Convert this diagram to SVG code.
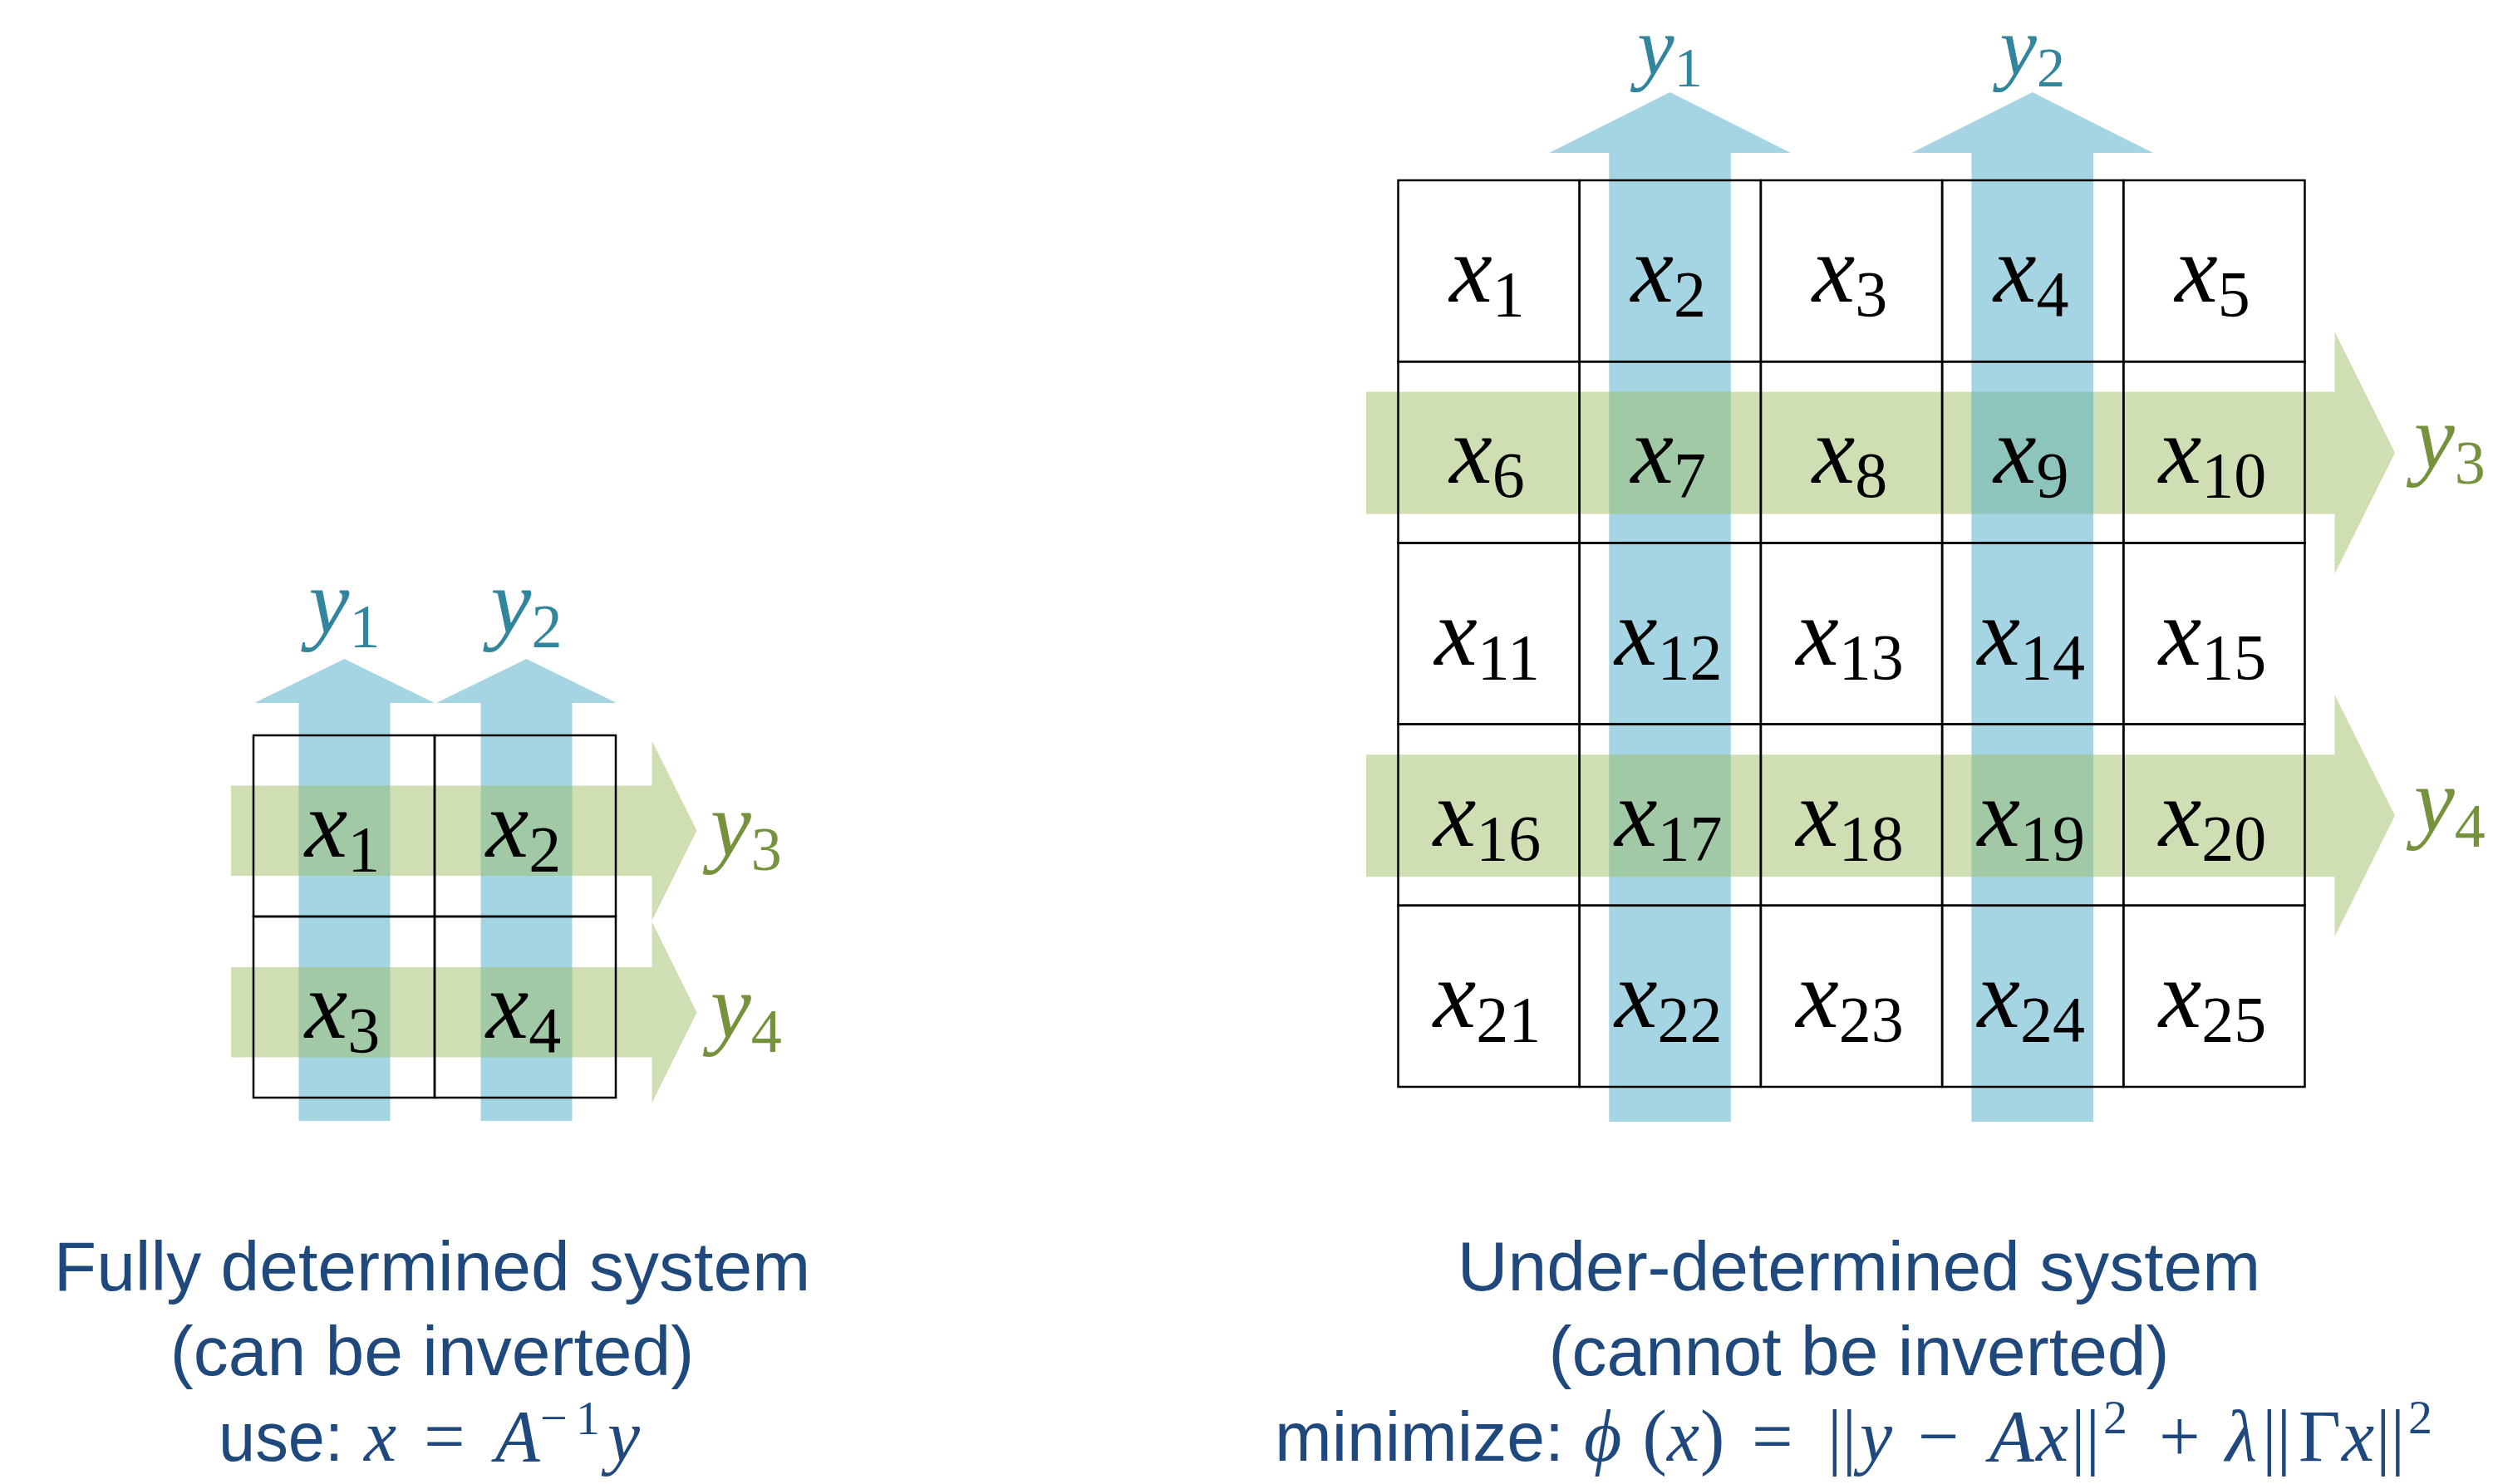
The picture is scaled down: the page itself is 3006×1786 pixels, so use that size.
<svg xmlns="http://www.w3.org/2000/svg" width="3006" height="1786" viewBox="0 0 3006 1786">
<style>
.blue{fill:#4BACC6;fill-opacity:0.5}
.green{fill:#A0BD68;fill-opacity:0.5}
.cell{fill:none;stroke:#000;stroke-width:2.5}
.xv{font-family:"Liberation Serif","Times New Roman",serif;font-style:italic;font-size:116px;fill:#000}
.xs{font-style:normal;font-size:78px}
.yv{font-family:"Liberation Serif","Times New Roman",serif;font-style:italic;font-size:110px}
.ys{font-style:normal;font-size:74px}
.yt{font-size:100px}
.yts{font-size:68px}
.teal{fill:#31859C}
.olive{fill:#76923C}
.cap{font-family:"Liberation Sans",Arial,sans-serif;font-size:84px;fill:#1F497D}
.m{font-family:"Liberation Serif","DejaVu Serif",serif;font-size:88px;fill:#1F497D}
.mi{font-style:italic}
.sup{font-size:58px}
</style>
<rect width="3006" height="1786" fill="#fff"/>

<g id="connectors">
  <g id="left-arrows">
    <polygon id="l-y1-arrow" class="blue" points="359.5,1349 359.5,846 306,846 414.5,793 523,846 469.5,846 469.5,1349"/>
    <polygon id="l-y2-arrow" class="blue" points="578.5,1349 578.5,846 525,846 633.5,793 742,846 688.5,846 688.5,1349"/>
    <polygon id="l-y3-arrow" class="green" points="278,945.5 784.5,945.5 784.5,891.5 838.5,999.8 784.5,1108 784.5,1054 278,1054"/>
    <polygon id="l-y4-arrow" class="green" points="278,1164 784.5,1164 784.5,1109.5 838.5,1218.5 784.5,1327.5 784.5,1272.5 278,1272.5"/>
  </g>
  <g id="right-arrows">
    <polygon id="r-y1-arrow" class="blue" points="1936.3,1350 1936.3,184 1864.2,184 2009.5,111 2154.8,184 2082.8,184 2082.8,1350"/>
    <polygon id="r-y3-arrow" class="green" points="1644,471.6 2809.5,471.6 2809.5,399.5 2882,545 2809.5,690.5 2809.5,618.5 1644,618.5"/>
    <polygon id="r-y2-arrow" class="blue" points="2372.4,1350 2372.4,184 2300.4,184 2445.7,111 2591,184 2519,184 2519,1350"/>
    <polygon id="r-y4-arrow" class="green" points="1644,908.2 2809.5,908.2 2809.5,836.2 2882,981.7 2809.5,1127.2 2809.5,1055.2 1644,1055.2"/>
  </g>
</g>

<g id="left-grid">
  <g id="l-x1"><rect class="cell" x="305" y="885" width="218" height="218"/><text class="xv" x="412" y="1031" text-anchor="middle">x<tspan class="xs" dy="17">1</tspan></text></g>
  <g id="l-x2"><rect class="cell" x="523" y="885" width="218" height="218"/><text class="xv" x="630" y="1031" text-anchor="middle">x<tspan class="xs" dy="17">2</tspan></text></g>
  <g id="l-x3"><rect class="cell" x="305" y="1103" width="218" height="218"/><text class="xv" x="412" y="1249" text-anchor="middle">x<tspan class="xs" dy="17">3</tspan></text></g>
  <g id="l-x4"><rect class="cell" x="523" y="1103" width="218" height="218"/><text class="xv" x="630" y="1249" text-anchor="middle">x<tspan class="xs" dy="17">4</tspan></text></g>
</g>

<g id="left-labels">
  <g id="l-y1"><text class="yv teal" x="414.5" y="762" text-anchor="middle">y<tspan class="ys" dy="17">1</tspan></text></g>
  <g id="l-y2"><text class="yv teal" x="633.5" y="762" text-anchor="middle">y<tspan class="ys" dy="17">2</tspan></text></g>
  <g id="l-y3"><text class="yv olive" x="855" y="1030">y<tspan class="ys" dy="17">3</tspan></text></g>
  <g id="l-y4"><text class="yv olive" x="855" y="1249">y<tspan class="ys" dy="17">4</tspan></text></g>
</g>

<g id="right-grid">
  <g id="r-x1"><rect class="cell" x="1682.5" y="217" width="218.2" height="218.2"/><text class="xv" x="1789.6" y="363.1" text-anchor="middle">x<tspan class="xs" dy="17">1</tspan></text></g>
  <g id="r-x2"><rect class="cell" x="1900.7" y="217" width="218.2" height="218.2"/><text class="xv" x="2007.8" y="363.1" text-anchor="middle">x<tspan class="xs" dy="17">2</tspan></text></g>
  <g id="r-x3"><rect class="cell" x="2118.9" y="217" width="218.2" height="218.2"/><text class="xv" x="2226" y="363.1" text-anchor="middle">x<tspan class="xs" dy="17">3</tspan></text></g>
  <g id="r-x4"><rect class="cell" x="2337.1" y="217" width="218.2" height="218.2"/><text class="xv" x="2444.2" y="363.1" text-anchor="middle">x<tspan class="xs" dy="17">4</tspan></text></g>
  <g id="r-x5"><rect class="cell" x="2555.3" y="217" width="218.2" height="218.2"/><text class="xv" x="2662.4" y="363.1" text-anchor="middle">x<tspan class="xs" dy="17">5</tspan></text></g>

  <g id="r-x6"><rect class="cell" x="1682.5" y="435.2" width="218.2" height="218.2"/><text class="xv" x="1789.6" y="581.3" text-anchor="middle">x<tspan class="xs" dy="17">6</tspan></text></g>
  <g id="r-x7"><rect class="cell" x="1900.7" y="435.2" width="218.2" height="218.2"/><text class="xv" x="2007.8" y="581.3" text-anchor="middle">x<tspan class="xs" dy="17">7</tspan></text></g>
  <g id="r-x8"><rect class="cell" x="2118.9" y="435.2" width="218.2" height="218.2"/><text class="xv" x="2226" y="581.3" text-anchor="middle">x<tspan class="xs" dy="17">8</tspan></text></g>
  <g id="r-x9"><rect class="cell" x="2337.1" y="435.2" width="218.2" height="218.2"/><text class="xv" x="2444.2" y="581.3" text-anchor="middle">x<tspan class="xs" dy="17">9</tspan></text></g>
  <g id="r-x10"><rect class="cell" x="2555.3" y="435.2" width="218.2" height="218.2"/><text class="xv" x="2662.4" y="581.3" text-anchor="middle">x<tspan class="xs" dy="17">10</tspan></text></g>

  <g id="r-x11"><rect class="cell" x="1682.5" y="653.4" width="218.2" height="218.2"/><text class="xv" x="1789.6" y="799.5" text-anchor="middle">x<tspan class="xs" dy="17">11</tspan></text></g>
  <g id="r-x12"><rect class="cell" x="1900.7" y="653.4" width="218.2" height="218.2"/><text class="xv" x="2007.8" y="799.5" text-anchor="middle">x<tspan class="xs" dy="17">12</tspan></text></g>
  <g id="r-x13"><rect class="cell" x="2118.9" y="653.4" width="218.2" height="218.2"/><text class="xv" x="2226" y="799.5" text-anchor="middle">x<tspan class="xs" dy="17">13</tspan></text></g>
  <g id="r-x14"><rect class="cell" x="2337.1" y="653.4" width="218.2" height="218.2"/><text class="xv" x="2444.2" y="799.5" text-anchor="middle">x<tspan class="xs" dy="17">14</tspan></text></g>
  <g id="r-x15"><rect class="cell" x="2555.3" y="653.4" width="218.2" height="218.2"/><text class="xv" x="2662.4" y="799.5" text-anchor="middle">x<tspan class="xs" dy="17">15</tspan></text></g>

  <g id="r-x16"><rect class="cell" x="1682.5" y="871.6" width="218.2" height="218.2"/><text class="xv" x="1789.6" y="1017.7" text-anchor="middle">x<tspan class="xs" dy="17">16</tspan></text></g>
  <g id="r-x17"><rect class="cell" x="1900.7" y="871.6" width="218.2" height="218.2"/><text class="xv" x="2007.8" y="1017.7" text-anchor="middle">x<tspan class="xs" dy="17">17</tspan></text></g>
  <g id="r-x18"><rect class="cell" x="2118.9" y="871.6" width="218.2" height="218.2"/><text class="xv" x="2226" y="1017.7" text-anchor="middle">x<tspan class="xs" dy="17">18</tspan></text></g>
  <g id="r-x19"><rect class="cell" x="2337.1" y="871.6" width="218.2" height="218.2"/><text class="xv" x="2444.2" y="1017.7" text-anchor="middle">x<tspan class="xs" dy="17">19</tspan></text></g>
  <g id="r-x20"><rect class="cell" x="2555.3" y="871.6" width="218.2" height="218.2"/><text class="xv" x="2662.4" y="1017.7" text-anchor="middle">x<tspan class="xs" dy="17">20</tspan></text></g>

  <g id="r-x21"><rect class="cell" x="1682.5" y="1089.8" width="218.2" height="218.2"/><text class="xv" x="1789.6" y="1235.9" text-anchor="middle">x<tspan class="xs" dy="17">21</tspan></text></g>
  <g id="r-x22"><rect class="cell" x="1900.7" y="1089.8" width="218.2" height="218.2"/><text class="xv" x="2007.8" y="1235.9" text-anchor="middle">x<tspan class="xs" dy="17">22</tspan></text></g>
  <g id="r-x23"><rect class="cell" x="2118.9" y="1089.8" width="218.2" height="218.2"/><text class="xv" x="2226" y="1235.9" text-anchor="middle">x<tspan class="xs" dy="17">23</tspan></text></g>
  <g id="r-x24"><rect class="cell" x="2337.1" y="1089.8" width="218.2" height="218.2"/><text class="xv" x="2444.2" y="1235.9" text-anchor="middle">x<tspan class="xs" dy="17">24</tspan></text></g>
  <g id="r-x25"><rect class="cell" x="2555.3" y="1089.8" width="218.2" height="218.2"/><text class="xv" x="2662.4" y="1235.9" text-anchor="middle">x<tspan class="xs" dy="17">25</tspan></text></g>
</g>

<g id="right-labels">
  <g id="r-y1"><text class="yv yt teal" x="2009.5" y="90" text-anchor="middle">y<tspan class="ys yts" dy="14">1</tspan></text></g>
  <g id="r-y2"><text class="yv yt teal" x="2445.7" y="90" text-anchor="middle">y<tspan class="ys yts" dy="14">2</tspan></text></g>
  <g id="r-y3"><text class="yv olive" x="2905" y="564">y<tspan class="ys" dy="18">3</tspan></text></g>
  <g id="r-y4"><text class="yv olive" x="2905" y="1001">y<tspan class="ys" dy="18">4</tspan></text></g>
</g>

<g id="left-caption">
  <text class="cap" x="520" y="1553" text-anchor="middle">Fully determined system</text>
  <text class="cap" x="520" y="1655" text-anchor="middle">(can be inverted)</text>
  <text class="cap" x="263" y="1758" textLength="150" lengthAdjust="spacingAndGlyphs">use:</text>
  <text class="m" y="1758"><tspan class="mi" x="438">x</tspan><tspan x="510">=</tspan><tspan class="mi" x="596">A</tspan><tspan class="sup" x="650" y="1726">−</tspan><tspan class="sup" x="693" y="1726">1</tspan><tspan class="mi" x="731" y="1758">y</tspan></text>
</g>

<g id="right-caption">
  <text class="cap" x="2237" y="1553" text-anchor="middle">Under-determined system</text>
  <text class="cap" x="2237" y="1655" text-anchor="middle">(cannot be inverted)</text>
  <text class="cap" x="1534" y="1758" textLength="348" lengthAdjust="spacingAndGlyphs">minimize:</text>
  <text class="m" y="1758"><tspan class="mi" x="1906">ϕ</tspan><tspan x="1976.5">(</tspan><tspan class="mi" x="2006">x</tspan><tspan x="2046">)</tspan><tspan x="2108">=</tspan><tspan x="2199">||</tspan><tspan class="mi" x="2238">y</tspan><tspan x="2308">−</tspan><tspan class="mi" x="2394">A</tspan><tspan class="mi" x="2450">x</tspan><tspan x="2492">||</tspan><tspan class="sup" x="2531" y="1725">2</tspan><tspan x="2598" y="1758">+</tspan><tspan class="mi" x="2678">λ</tspan><tspan x="2722">||</tspan><tspan x="2766">Γ</tspan><tspan class="mi" x="2818">x</tspan><tspan x="2859">||</tspan><tspan class="sup" x="2898" y="1725">2</tspan></text>
</g>
</svg>
